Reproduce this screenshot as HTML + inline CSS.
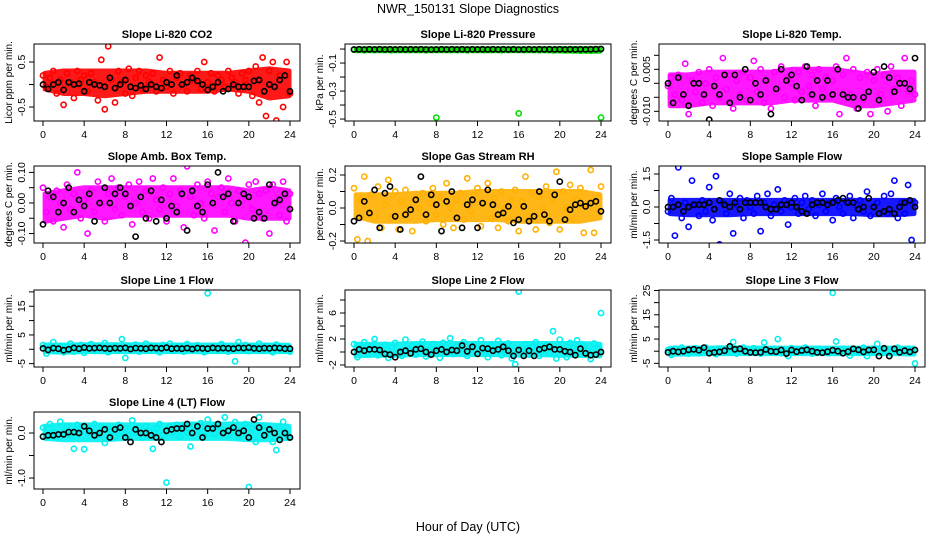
<!DOCTYPE html>
<html><head><meta charset="utf-8"><style>
html,body{margin:0;padding:0;background:#fff;}
svg{display:block;font-family:"Liberation Sans",Arial,sans-serif;}
</style></head><body>
<svg id="chart" width="936" height="540" viewBox="0 0 936 540" xmlns="http://www.w3.org/2000/svg">
<text x="468" y="13" font-size="12.5" text-anchor="middle">NWR_150131  Slope Diagnostics</text>
<text x="468" y="531" font-size="12.5" text-anchor="middle">Hour of Day (UTC)</text>
</svg>
<script>
const xTicks = [0,4,8,12,16,20,24];
const bandHours = [0.2,2,4,6,8,10,12,14,16,18,20,22,23.9];

const co2Vals = [0.2,-0.05,0.15,0.3,-0.2,0.1,-0.45,0.25,0.05,-0.3,0.3,0.1,0.2,-0.15,0.25,0.05,-0.35,0.55,-0.55,0.85,0.1,-0.4,0.3,0.05,-0.2,0.35,-0.25,0.15,0.3,-0.1,0.2,0.05,0.25,-0.15,0.6,0.1,-0.05,0.3,-0.2,0.15,0.25,0.0,-0.15,0.2,0.1,0.3,-0.1,0.5,0.05,0.25,-0.15,0.2,0.1,-0.05,0.3,0.15,0.05,-0.2,0.25,0.1,0.3,-0.25,0.4,-0.4,0.6,-0.7,0.3,0.5,-0.8,0.2,-0.5,0.5,-0.2];
const co2Black = [0,-0.1,0.0,0.05,-0.12,0.05,0.0,0.02,-0.15,0.05,0.0,-0.02,-0.05,0.15,-0.08,0.0,0.1,-0.05,-0.08,-0.02,-0.1,0.0,-0.05,-0.08,0.05,0.0,0.2,0.0,0.05,0.15,0.08,0.0,-0.12,-0.05,0.05,-0.15,-0.1,0.0,-0.05,-0.05,-0.05,0.08,0.1,-0.15,0.0,-0.05,0.1,0.2,-0.15];
const co2BandLo = [-0.1,-0.2,-0.2,-0.25,-0.2,-0.15,-0.15,-0.15,-0.15,-0.1,-0.15,-0.3,-0.25];
const co2BandHi = [0.25,0.3,0.3,0.3,0.3,0.3,0.25,0.25,0.25,0.25,0.3,0.35,0.3];

const presVals = [-0.004,-0.006,-0.003,-0.008,-0.005,-0.004,-0.007,-0.003,-0.006,-0.005,-0.004,-0.008,-0.003,-0.006,-0.005,-0.004,-0.007,-0.005,-0.003,-0.006,-0.004,-0.008,-0.005,-0.004,-0.49,-0.006,-0.003,-0.005,-0.007,-0.004,-0.006,-0.003,-0.005,-0.008,-0.004,-0.006,-0.003,-0.005,-0.007,-0.004,-0.006,-0.005,-0.003,-0.008,-0.004,-0.006,-0.005,-0.004,-0.46,-0.005,-0.007,-0.003,-0.006,-0.004,-0.008,-0.005,-0.003,-0.006,-0.009,-0.004,-0.007,-0.005,-0.010,-0.006,-0.008,-0.004,-0.011,-0.007,-0.009,-0.012,-0.008,-0.010,-0.49];
const presBlack = [-0.003,-0.002,-0.003,-0.002,-0.003,-0.002,-0.003,-0.002,-0.003,-0.002,-0.003,-0.002,-0.003,-0.002,-0.003,-0.004,-0.003,-0.002,-0.003,-0.002,-0.003,-0.002,-0.003,-0.002,-0.003,-0.002,-0.003,-0.002,-0.003,-0.002,-0.003,-0.002,-0.004,-0.003,-0.002,-0.003,-0.002,-0.003,-0.002,-0.003,-0.002,-0.003,-0.002,-0.003,-0.002,-0.003,-0.002,-0.001,0.0];
const presBandLo = [-0.012,-0.012,-0.012,-0.012,-0.012,-0.012,-0.012,-0.012,-0.012,-0.012,-0.014,-0.016,-0.016];
const presBandHi = [0.0,0.002,0.002,0.002,0.002,0.002,0.002,0.002,0.002,0.002,0.003,0.004,0.004];

const tempVals = [-0.001,0.002,-0.004,0.003,-0.006,0.007,-0.011,0.001,-0.003,0.004,-0.007,0.0,0.005,-0.008,0.002,-0.005,0.009,-0.002,0.003,-0.009,0.001,-0.004,0.004,-0.006,0.002,0.008,-0.003,0.005,-0.007,0.001,-0.009,0.004,-0.002,0.006,-0.005,0.002,0.0,-0.006,0.004,-0.003,0.006,-0.001,0.003,-0.008,0.005,-0.002,0.002,-0.005,0.001,0.006,-0.011,0.003,0.009,-0.004,0.005,-0.009,0.002,-0.006,0.004,-0.011,0.001,0.005,-0.004,0.003,-0.010,0.006,-0.002,0.002,-0.008,0.009,-0.003,0.001,-0.004];
const tempBlack = [0.0,-0.007,0.002,-0.004,-0.008,0.0,0.0,-0.004,-0.013,-0.001,-0.004,0.003,-0.007,0.003,-0.005,0.005,-0.006,0.000,-0.004,0.001,-0.011,-0.002,0.005,0.001,0.003,-0.001,-0.006,0.006,-0.004,0.001,-0.005,0.001,-0.004,0.005,-0.004,-0.005,-0.005,-0.009,-0.005,-0.003,0.004,-0.006,0.006,0.002,-0.003,0.000,0.000,-0.002,0.009];
const tempBandLo = [-0.008,-0.008,-0.007,-0.007,-0.007,-0.007,-0.006,-0.006,-0.006,-0.008,-0.008,-0.007,-0.006];
const tempBandHi = [0.003,0.003,0.004,0.004,0.004,0.004,0.005,0.005,0.005,0.004,0.003,0.004,0.004];

const ambVals = [0.05,-0.03,0.02,-0.06,0.04,0.0,-0.08,0.06,-0.02,0.03,0.1,-0.05,0.01,-0.1,0.04,-0.03,0.07,0.0,-0.06,0.03,0.08,-0.02,0.05,-0.04,0.02,0.06,-0.07,0.0,0.07,-0.03,0.04,-0.05,0.08,0.01,-0.02,0.05,-0.06,0.03,0.08,-0.01,0.04,-0.08,0.12,0.02,-0.04,0.06,0.0,-0.05,0.07,0.03,-0.09,0.02,0.05,-0.03,0.08,0.0,-0.06,0.04,0.01,-0.13,0.06,-0.02,0.07,0.03,-0.05,0.04,-0.1,0.06,0.0,-0.04,0.07,-0.06,0.03];
const ambBlack = [-0.07,0.04,0.02,-0.03,0.0,0.05,-0.03,0.01,-0.01,0.03,-0.06,0.0,0.05,0.0,0.03,0.05,0.03,-0.01,-0.11,0.02,-0.05,0.04,-0.06,0.01,-0.05,-0.01,-0.03,0.03,-0.09,0.04,-0.01,-0.03,0.06,0.0,0.10,0.02,0.03,-0.06,0.0,0.03,0.02,-0.05,-0.03,-0.05,0.06,0.0,0.01,0.03,-0.02];
const ambBandLo = [-0.06,-0.05,-0.04,-0.05,-0.04,-0.04,-0.04,-0.04,-0.04,-0.04,-0.05,-0.05,-0.05];
const ambBandHi = [0.03,0.04,0.05,0.05,0.05,0.05,0.05,0.05,0.05,0.05,0.04,0.05,0.04];

const rhVals = [0.12,-0.19,0.05,0.19,-0.2,0.08,-0.05,0.13,-0.12,0.02,0.17,-0.06,0.1,-0.13,0.04,0.11,-0.02,-0.14,0.06,0.0,0.09,-0.08,0.03,0.12,-0.04,0.07,-0.1,0.15,0.0,-0.12,0.05,0.09,-0.07,0.18,-0.02,0.08,0.12,-0.11,0.03,0.15,-0.06,0.06,-0.12,0.1,0.0,-0.08,0.05,0.11,-0.14,0.04,0.19,-0.05,0.09,-0.13,0.07,0.0,0.13,-0.09,0.05,0.22,-0.13,0.1,0.0,0.14,-0.07,0.05,0.12,-0.15,0.02,0.23,-0.15,0.06,0.13];
const rhBlack = [-0.08,-0.06,0.04,-0.03,0.11,-0.12,0.09,0.13,-0.05,-0.13,-0.04,-0.01,0.05,0.19,-0.04,0.08,0.02,-0.14,0.04,0.1,-0.06,-0.12,0.02,0.05,-0.12,0.03,0.11,0.02,-0.04,-0.03,0.01,-0.09,-0.07,0.01,-0.08,-0.05,0.1,-0.04,-0.08,0.08,0.16,-0.07,-0.01,0.02,0.03,0.01,0.03,0.04,-0.02];
const rhBandLo = [-0.05,-0.08,-0.08,-0.08,-0.07,-0.07,-0.07,-0.07,-0.08,-0.08,-0.08,-0.08,-0.06];
const rhBandHi = [0.08,0.08,0.08,0.09,0.09,0.09,0.1,0.1,0.1,0.1,0.1,0.1,0.08];

const sampleVals = [-0.2,0.4,-1.3,1.8,-0.5,0.2,-0.9,1.2,0.1,-0.4,0.3,-0.2,0.9,-0.6,1.4,-1.7,0.2,-0.3,0.6,-1.2,0.1,0.4,-0.5,0.3,0.0,-0.3,0.5,-1.1,0.2,0.6,-0.4,0.1,0.8,-0.2,0.3,-0.8,0.0,0.4,-0.3,0.2,0.5,-0.1,0.3,-0.4,0.1,0.6,-0.2,0.2,-0.6,0.4,0.0,-0.3,0.2,0.5,-0.5,0.1,0.3,-0.2,0.7,-0.4,0.0,0.2,-1.8,0.5,-0.3,0.6,1.2,-0.5,0.2,-0.3,1.0,-1.5,0.2];
const sampleBlack = [0.0,0.0,0.1,-0.2,0.0,0.1,0.1,0.1,0.2,-0.1,0.3,0.1,0.0,0.2,-0.1,0.2,0.2,0.2,0.2,0.0,-0.1,-0.1,0.1,0.1,0.2,0.0,-0.2,-0.3,0.1,0.2,0.2,0.1,0.2,0.3,0.4,0.2,0.2,-0.1,0.0,0.4,0.0,-0.3,-0.2,-0.1,-0.3,0.0,0.2,0.3,0.0];
const sampleBandLo = [-0.3,-0.35,-0.35,-0.35,-0.3,-0.3,-0.3,-0.3,-0.3,-0.3,-0.35,-0.35,-0.3];
const sampleBandHi = [0.3,0.3,0.3,0.3,0.3,0.3,0.3,0.3,0.3,0.3,0.3,0.3,0.3];

const line1Vals = [1.5,-1.5,0.5,2.5,-0.5,1.0,-1.0,0.8,2.0,-0.8,0.3,1.5,-1.2,0.5,1.8,-0.5,1.0,0.0,2.2,-1.0,0.6,1.3,-0.3,3.5,-3.0,1.0,0.2,1.6,-0.8,0.5,2.0,-0.4,1.2,0.0,-1.0,1.5,0.6,2.0,-0.5,0.8,1.0,-0.8,1.8,0.3,-0.2,1.4,0.5,-1.0,19.5,0.6,1.2,-0.5,1.8,0.2,-0.8,1.0,-4.2,2.5,0.4,1.5,-0.6,1.0,0.2,2.0,-0.4,1.2,0.0,-1.0,1.6,0.5,-0.2,1.0,-0.8];
const line1Black = [0.3,-0.2,0.4,0.2,-0.3,0.0,0.5,0.2,0.6,0.3,0.4,0.5,0.3,0.2,0.4,0.3,0.5,0.1,0.4,0.3,0.2,0.5,0.4,0.3,0.6,0.2,0.3,0.2,0.4,0.1,0.4,0.3,0.2,0.5,0.3,0.4,0.3,0.2,0.5,0.4,0.6,0.3,0.2,0.4,0.3,0.5,0.4,0.2,0.2];
const line1BandLo = [-0.8,-1.0,-0.8,-0.8,-0.8,-0.8,-0.8,-0.8,-0.8,-0.8,-0.8,-0.8,-0.8];
const line1BandHi = [1.5,1.5,1.6,1.6,1.6,1.6,1.5,1.5,1.5,1.5,1.5,1.5,1.4];

const line2Vals = [1.2,-0.8,0.6,1.5,-0.3,0.9,2.0,-0.5,0.3,1.1,-0.9,0.7,1.4,0.0,-0.6,1.9,0.4,1.0,-0.4,0.8,1.6,-0.7,0.2,1.2,0.5,-0.9,1.4,0.1,2.1,-0.3,0.9,0.4,1.5,-0.6,0.7,1.2,-0.2,1.8,0.3,-0.8,1.0,0.6,1.7,-0.5,0.4,1.3,-1.0,-1.9,9.3,0.5,1.2,-0.4,0.8,1.5,-0.6,0.3,1.0,-0.2,3.2,-1.0,1.9,0.2,-0.8,1.4,0.6,1.8,-0.4,0.9,0.2,-1.1,1.3,0.5,6.0];
const line2Black = [0.0,0.4,0.2,0.4,0.4,0.3,-0.3,-0.4,-0.8,0.0,0.2,-0.2,0.4,0.5,0.0,-0.4,0.2,0.4,0.0,0.3,0.2,1.0,0.1,0.8,-0.3,0.6,0.5,0.2,0.4,0.8,0.2,-0.6,0.3,-0.6,0.2,-0.6,0.4,0.6,0.8,0.4,0.4,0.1,0.0,-0.5,0.5,-0.2,-0.5,-0.4,0.0];
const line2BandLo = [-0.6,-0.5,-0.5,-0.4,-0.4,-0.4,-0.4,-0.4,-0.5,-0.4,-0.5,-0.5,-0.6];
const line2BandHi = [1.2,1.2,1.2,1.3,1.3,1.3,1.3,1.3,1.3,1.3,1.3,1.3,1.2];

const line3Vals = [0.5,-1.5,1.0,-0.5,1.5,0.0,-1.0,0.8,1.2,-0.8,0.3,1.5,-0.3,0.6,-1.2,1.0,0.2,0.5,-0.6,3.8,-1.0,0.8,1.5,0.0,-0.5,1.2,0.4,-1.0,3.6,0.6,-0.4,1.0,5.0,-0.8,0.3,-2.0,1.2,0.0,0.8,-0.5,1.5,0.2,-1.0,0.6,1.0,-0.3,0.5,-0.8,24.0,4.0,-0.5,1.0,0.3,-1.8,0.8,0.0,-0.4,1.4,-2.0,0.5,0.9,3.0,-0.3,1.2,0.0,-0.9,0.6,1.5,-0.5,0.3,1.0,-0.4,-5.0];
const line3Black = [-0.5,0.0,-0.3,0.0,0.6,0.8,0.4,1.5,-0.8,-0.5,-0.3,0.2,2.0,0.8,1.0,0.0,-0.5,-0.6,-0.5,0.7,0.0,-0.2,0.5,-1.0,0.5,-0.2,0.3,0.6,0.0,-0.5,-0.6,-0.2,0.4,0.0,-0.8,-0.2,1.0,0.6,-0.3,0.5,0.6,-2.0,1.2,-2.0,1.0,-0.5,0.2,-0.3,0.5];
const line3BandLo = [-1.2,-1.2,-1.0,-1.0,-1.0,-1.0,-1.0,-1.0,-1.0,-1.0,-1.0,-1.0,-1.2];
const line3BandHi = [1.2,1.3,1.3,1.5,1.3,1.3,1.3,1.3,1.3,1.3,1.3,1.3,1.2];

const line4Vals = [0.12,-0.08,0.2,0.02,-0.1,0.25,0.0,0.15,-0.05,-0.35,0.18,0.08,-0.36,0.12,0.0,0.2,-0.05,0.15,-0.22,0.1,0.05,-0.08,0.18,0.02,0.1,-0.06,0.28,0.0,0.12,-0.1,0.15,0.04,-0.35,0.1,0.2,-0.04,-1.1,0.14,0.02,0.18,-0.08,0.1,0.0,-0.3,0.16,0.05,0.22,-0.06,0.3,0.1,-0.02,0.18,0.08,0.35,-0.05,0.12,0.24,-0.08,0.04,0.2,-1.2,0.1,-0.2,0.35,0.15,-0.04,0.1,-0.2,-0.38,0.12,0.25,0.0,-0.1];
const line4Black = [-0.08,-0.05,-0.05,-0.03,-0.03,0.02,0.02,0.0,0.15,0.05,-0.05,0.0,0.08,-0.1,0.08,0.12,-0.1,-0.2,0.08,0.0,0.0,-0.05,-0.1,-0.2,0.05,0.08,0.1,0.1,0.2,0.0,0.15,-0.1,0.1,0.1,0.2,0.0,0.05,0.12,0.0,0.05,-0.1,0.3,0.12,-0.05,0.08,0.0,-0.15,0.0,-0.1];
const line4BandLo = [-0.12,-0.15,-0.15,-0.15,-0.12,-0.12,-0.12,-0.12,-0.12,-0.12,-0.15,-0.15,-0.12];
const line4BandHi = [0.15,0.18,0.18,0.18,0.18,0.18,0.18,0.2,0.2,0.2,0.2,0.18,0.15];

const panels = [
 {key:'co2', title:'Slope Li-820 CO2', ylab:'Licor ppm per min.', col:0,row:0, ymax:0.9, ymin:-0.81, ticks:[-0.5,0,0.5], labels:{'-0.5':'-0.5','0.5':'0.5'}, color:'#ff0000', vals:co2Vals, black:co2Black, lo:co2BandLo, hi:co2BandHi},
 {key:'pressure', title:'Slope Li-820 Pressure', ylab:'kPa per min.', col:1,row:0, ymax:0.036, ymin:-0.514, ticks:[0,-0.1,-0.2,-0.3,-0.4,-0.5], labels:{'-0.1':'-0.1','-0.3':'-0.3','-0.5':'-0.5'}, color:'#00e000', vals:presVals, black:presBlack, lo:presBandLo, hi:presBandHi},
 {key:'temp', title:'Slope Li-820 Temp.', ylab:'degrees C per min.', col:2,row:0, ymax:0.01404, ymin:-0.01346, ticks:[0.01,0.005,0,-0.005,-0.01], labels:{'0.005':'0.005','-0.01':'-0.010'}, color:'#ff00ff', vals:tempVals, black:tempBlack, lo:tempBandLo, hi:tempBandHi},
 {key:'ambtemp', title:'Slope Amb. Box Temp.', ylab:'degrees C per min.', col:0,row:1, ymax:0.121, ymin:-0.131, ticks:[0.1,0.05,0,-0.05,-0.1], labels:{'0.1':'0.10','0':'0.00','-0.1':'-0.10'}, color:'#ff00ff', vals:ambVals, black:ambBlack, lo:ambBandLo, hi:ambBandHi},
 {key:'rh', title:'Slope Gas Stream RH', ylab:'percent per min.', col:1,row:1, ymax:0.2545, ymin:-0.212, ticks:[0.2,0.1,0,-0.1,-0.2], labels:{'0.2':'0.2','0':'0.0','-0.2':'-0.2'}, color:'#ffb000', vals:rhVals, black:rhBlack, lo:rhBandLo, hi:rhBandHi},
 {key:'sampleflow', title:'Slope Sample Flow', ylab:'ml/min per min.', col:2,row:1, ymax:1.864, ymin:-1.636, ticks:[1.5,0.75,0,-0.75,-1.5], labels:{'1.5':'1.5','0':'0.0','-1.5':'-1.5'}, color:'#0000ff', vals:sampleVals, black:sampleBlack, lo:sampleBandLo, hi:sampleBandHi},
 {key:'line1', title:'Slope Line 1 Flow', ylab:'ml/min per min.', col:0,row:2, ymax:20.66, ymin:-6.17, ticks:[20,15,10,5,0,-5], labels:{'15':'15','5':'5','-5':'-5'}, color:'#00f0f0', vals:line1Vals, black:line1Black, lo:line1BandLo, hi:line1BandHi},
 {key:'line2', title:'Slope Line 2 Flow', ylab:'ml/min per min.', col:1,row:2, ymax:9.54, ymin:-2.31, ticks:[8,6,4,2,0,-2], labels:{'6':'6','2':'2','-2':'-2'}, color:'#00f0f0', vals:line2Vals, black:line2Black, lo:line2BandLo, hi:line2BandHi},
 {key:'line3', title:'Slope Line 3 Flow', ylab:'ml/min per min.', col:2,row:2, ymax:25.2, ymin:-6.5, ticks:[25,20,15,10,5,0,-5], labels:{'25':'25','15':'15','5':'5','-5':'-5'}, color:'#00f0f0', vals:line3Vals, black:line3Black, lo:line3BandLo, hi:line3BandHi},
 {key:'line4', title:'Slope Line 4 (LT) Flow', ylab:'ml/min per min.', col:0,row:3, ymax:0.467, ymin:-1.244, ticks:[0,-0.5,-1], labels:{'0':'0.0','-1':'-1.0'}, color:'#00f0f0', vals:line4Vals, black:line4Black, lo:line4BandLo, hi:line4BandHi}
];

const NS = 'http://www.w3.org/2000/svg';
const svg = document.getElementById('chart');
const colLeft = [34, 345, 659];
const rowTop = [44, 166, 290, 412];
const BW = 266, BH = 77, X0OFF = 9, XSPAN = 247;

function mk(tag, attrs, parent){
  const e = document.createElementNS(NS, tag);
  for (const k in attrs) e.setAttribute(k, attrs[k]);
  parent.appendChild(e);
  return e;
}

panels.forEach(p => {
  const L = colLeft[p.col], T = rowTop[p.row], B = T + BH;
  const xScale = h => L + X0OFF + h / 24 * XSPAN;
  const yScale = v => T + (p.ymax - v) / (p.ymax - p.ymin) * BH;
  const g = mk('g', {}, svg);
  
  

  const clipId = 'clip-' + p.key;
  const cp = mk('clipPath', {id: clipId}, g);
  mk('rect', {x: L, y: T, width: BW, height: BH}, cp);

  const title = mk('text', {x: L + BW / 2, y: T - 6, 'font-size': 11, 'font-weight': 'bold', 'text-anchor': 'middle'}, g);
  title.textContent = p.title;
  
  

  const yl = mk('text', {x: 0, y: 0, 'font-size': 10, 'text-anchor': 'middle', transform: `translate(${L - 22},${T + BH / 2}) rotate(-90)`}, g);
  yl.textContent = p.ylab;
  
  

  const pts = mk('g', {'clip-path': `url(#${clipId})`, fill: 'none', 'stroke-width': 1.6}, g);
  
  

  // dense core band of colored points
  let d = '';
  bandHours.forEach((h, i) => { d += (i ? 'L' : 'M') + xScale(h).toFixed(1) + ',' + yScale(p.hi[i]).toFixed(1); });
  for (let i = bandHours.length - 1; i >= 0; i--) d += 'L' + xScale(bandHours[i]).toFixed(1) + ',' + yScale(p.lo[i]).toFixed(1);
  d += 'Z';
  const band = mk('path', {d: d, fill: p.color, stroke: p.color, 'stroke-width': 5, 'stroke-linejoin': 'round', opacity: 0.9}, pts);
  
  

  const n = p.vals.length;
  p.vals.forEach((v, i) => {
    const c = mk('circle', {cx: xScale(i * 24 / (n - 1)).toFixed(1), cy: yScale(v).toFixed(1), r: 2.6, stroke: p.color}, pts);
    
    
  });
  const nb = p.black.length;
  p.black.forEach((v, i) => {
    const c = mk('circle', {cx: xScale(i * 24 / (nb - 1)).toFixed(1), cy: yScale(v).toFixed(1), r: 2.6, stroke: '#000'}, pts);
    
    
  });

  const box = mk('rect', {x: L, y: T, width: BW, height: BH, fill: 'none', stroke: '#000', 'stroke-width': 1}, g);
  
  

  const xa = mk('g', {stroke: '#000', 'stroke-width': 1}, g);
  
  
  mk('line', {x1: xScale(xTicks[0]), x2: xScale(xTicks[xTicks.length - 1]), y1: B, y2: B}, xa);
  xTicks.forEach(t => {
    mk('line', {x1: xScale(t), x2: xScale(t), y1: B, y2: B + 5}, xa);
    const tx = mk('text', {x: xScale(t), y: B + 17, 'font-size': 10.5, 'text-anchor': 'middle', stroke: 'none'}, xa);
    tx.textContent = t;
    
    
  });

  const ya = mk('g', {stroke: '#000', 'stroke-width': 1}, g);
  
  
  const tmin = Math.min(...p.ticks), tmax = Math.max(...p.ticks);
  mk('line', {x1: L, x2: L, y1: yScale(tmax), y2: yScale(tmin)}, ya);
  p.ticks.forEach(t => {
    const y = yScale(t);
    mk('line', {x1: L - 5, x2: L, y1: y, y2: y}, ya);
    const lab = p.labels[String(t)];
    if (lab !== undefined) {
      const tx = mk('text', {x: 0, y: 0, 'font-size': 10.5, 'text-anchor': 'middle', stroke: 'none', transform: `translate(${L - 9},${y}) rotate(-90)`}, ya);
      tx.textContent = lab;
      
      
    }
  });
});
</script>
</body></html>
